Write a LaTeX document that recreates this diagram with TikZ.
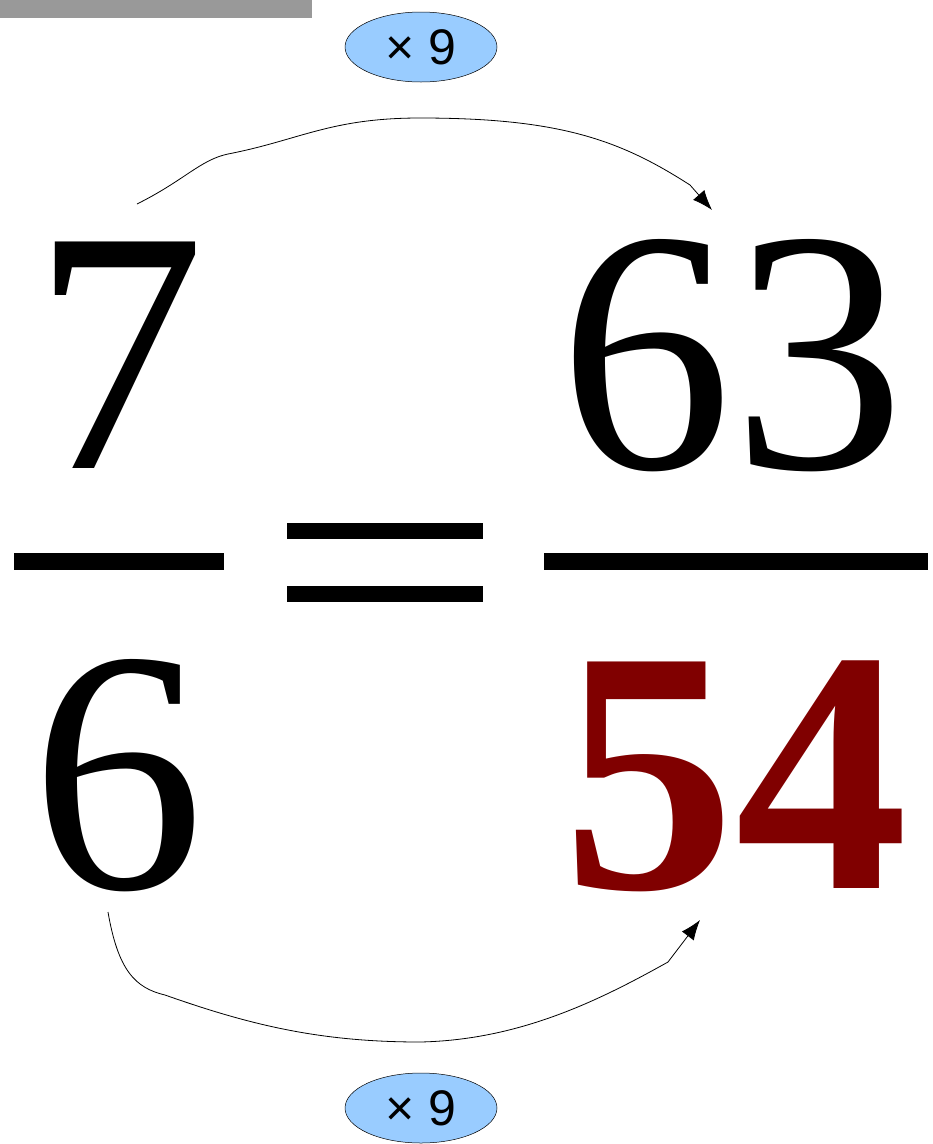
\documentclass[tikz,border=0pt]{standalone}
\usepackage{fontspec}
\setmainfont{Liberation Serif}
\newfontfamily\labelsans{Liberation Sans}
\usetikzlibrary{arrows.meta,positioning,shapes}
\definecolor{bargray}{HTML}{999999}
\definecolor{factorbg}{HTML}{99CCFF}
\definecolor{answerred}{HTML}{800000}
\tikzset{
  bignum/.style={anchor=base,inner sep=0pt,
                 font=\fontsize{346}{346}\selectfont},
  bigbold/.style={bignum,font=\bfseries\fontsize{346}{346}\selectfont,
                  text=answerred},
  barline/.style={fill=black,inner sep=0pt,
                  minimum width=#1,minimum height=17pt},
  factor/.style={ellipse,draw=black,fill=factorbg,line width=0.5pt,
                 minimum width=152pt,minimum height=70pt,inner sep=0pt,
                 font=\labelsans\fontsize{50}{50}\selectfont},
  multarr/.style={-{Latex[length=20pt,width=15pt]},line width=0.8pt}
}

\begin{document}
\begin{tikzpicture}[x=1pt,y=-1pt]
  \useasboundingbox (0,0) rectangle (933,1144);
  \fill[bargray] (0,0) rectangle (312,18);

  % the two fractions
  \node[bignum] (num1) at (119,468) {7};
  \node[bignum] (den1) at (118,888) {6};
  \node[bignum] (num2) at (732,468) {63};
  \node[bigbold] (den2) at (735,888) {54};

  \node[barline=210pt] (frac1) at (119,561.5) {};
  \node[barline=384pt] (frac2) at (736,561.5) {};
  \node[barline=196pt,minimum height=16pt] (eqtop) at (385,531) {};
  \node[barline=196pt,minimum height=16pt] (eqbot) at (385,594) {};

  % the multipliers
  \node[factor] (topfac) at (421,47) {× 9};
  \node[factor] (botfac) at (421,1108) {× 9};

  \coordinate (topstart) at (137,204);
  \coordinate (topend) at (712,210);
  \coordinate (botstart) at (108,912);
  \coordinate (botend) at (700,920);

  \draw[multarr] (topstart) .. controls (185,180) and (200,160) .. (228,154)
    .. controls (300,140) and (330,118) .. (420,118)
    .. controls (560,118) and (620,140) .. (690,185) -- (topend);
  \draw[multarr] (botstart) .. controls (118,970) and (135,988) .. (165,995)
    .. controls (250,1025) and (320,1042) .. (420,1042)
    .. controls (520,1040) and (600,1000) .. (668,962) -- (botend);
\end{tikzpicture}
\end{document}
